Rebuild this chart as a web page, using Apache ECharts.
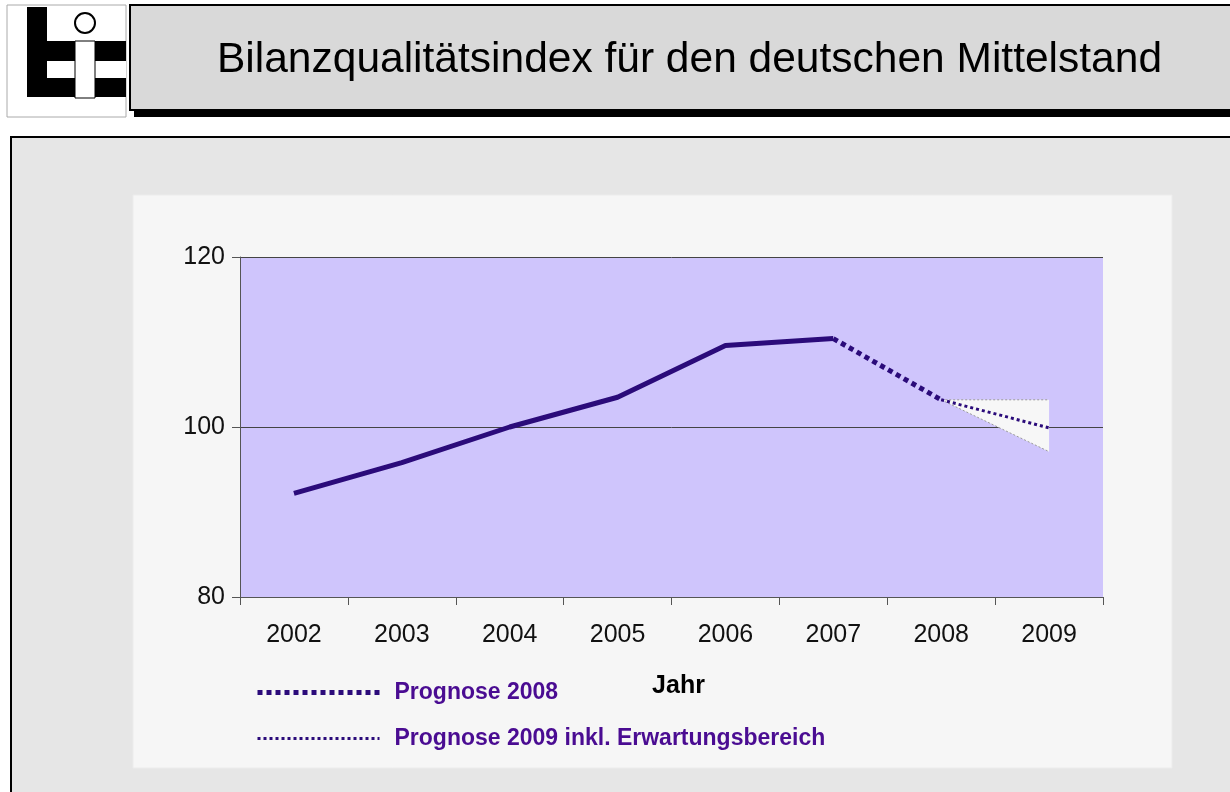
<!DOCTYPE html>
<html>
<head>
<meta charset="utf-8">
<script src="https://cdn.jsdelivr.net/npm/echarts@6/dist/echarts.min.js"></script>
<style>
  html, body { margin: 0; padding: 0; background: #fff; }
  #chart { width: 1230px; height: 792px; }
</style>
</head>
<body>
<div id="chart"></div>
<script>
// data
var years = ["2002", "2003", "2004", "2005", "2006", "2007", "2008", "2009"];
var indexValues = [92.2, 95.8, 100.0, 103.5, 109.6, 110.4, "-", "-"];
var forecast2008 = ["-", "-", "-", "-", "-", 110.4, 103.2, "-"];
var forecast2009 = ["-", "-", "-", "-", "-", "-", 103.2, 99.9];
var rangeLow = ["-", "-", "-", "-", "-", "-", 103.2, 97.1];
var rangeHigh = ["-", "-", "-", "-", "-", "-", 103.2, 103.2];

var lineColor = "#2b0b7a";
var legendColor = "#4a0c92";
var font = "Liberation Sans, Arial, sans-serif";

var myChart = echarts.init(document.getElementById("chart"));

// band = high - low, stacked on the low bound
var rangeBand = rangeHigh.map(function (v, i) {
  return v === "-" ? "-" : +(v - rangeLow[i]).toFixed(1);
});

var option = {
  backgroundColor: "#ffffff",
  animation: false,
  textStyle: { fontFamily: font },
  graphic: [
    // outer panel
    { type: "rect", z: -10, shape: { x: 11, y: 137, width: 1240, height: 700 },
      style: { fill: "#e6e6e6", stroke: "#000", lineWidth: 2 } },
    // inner chart area
    { type: "rect", z: -9, shape: { x: 133, y: 195, width: 1039, height: 573 },
      style: { fill: "#f6f6f6", stroke: "#ececec", lineWidth: 1 } },
    // title box shadow + box
    { type: "rect", z: -9, shape: { x: 134, y: 12, width: 1110, height: 105 },
      style: { fill: "#000" } },
    { type: "rect", z: -8, shape: { x: 130, y: 5, width: 1110, height: 105 },
      style: { fill: "#d9d9d9", stroke: "#000", lineWidth: 2 } },
    { type: "text", z: 5, x: 217, y: 60,
      style: { text: "Bilanzqualitätsindex für den deutschen Mittelstand",
        font: "42.5px " + font, fill: "#000", verticalAlign: "middle" } },
    // logo
    { type: "rect", z: -8, shape: { x: 7, y: 5, width: 119, height: 112 },
      style: { fill: "#fff", stroke: "#aaa", lineWidth: 1 } },
    { type: "rect", z: -7, shape: { x: 27, y: 7, width: 20, height: 90 }, style: { fill: "#000" } },
    { type: "rect", z: -7, shape: { x: 27, y: 41, width: 99, height: 56 }, style: { fill: "#000" } },
    { type: "rect", z: -6, shape: { x: 47, y: 61, width: 28, height: 17 }, style: { fill: "#fff" } },
    { type: "rect", z: -6, shape: { x: 95, y: 61, width: 31, height: 17 }, style: { fill: "#fff" } },
    { type: "rect", z: -6, shape: { x: 75, y: 41, width: 20, height: 57 },
      style: { fill: "#fff", stroke: "#000", lineWidth: 1 } },
    { type: "circle", z: -6, shape: { cx: 85, cy: 23, r: 10 },
      style: { fill: "#fff", stroke: "#000", lineWidth: 2 } }
  ],
  grid: {
    left: 240, right: 127, top: 257, bottom: 195,
    show: true, backgroundColor: "#cfc5fc", borderWidth: 0
  },
  legend: {
    data: ["Prognose 2008", "Prognose 2009 inkl. Erwartungsbereich"],
    orient: "vertical",
    left: 250, top: 676,
    itemWidth: 122, itemHeight: 14, itemGap: 23,
    itemStyle: { opacity: 0 },
    lineStyle: { width: "inherit" },
    textStyle: { color: legendColor, fontSize: 23, fontWeight: "bold",
      fontFamily: font, padding: [0, 0, 0, 10] },
    selectedMode: false
  },
  xAxis: {
    type: "category",
    data: years,
    boundaryGap: true,
    name: "Jahr",
    nameLocation: "middle",
    nameGap: 77,
    nameTextStyle: { color: "#000", fontSize: 25, fontWeight: "bold", padding: [0, 0, 0, 14] },
    axisLine: { lineStyle: { color: "#555", width: 1 } },
    axisTick: { show: true, length: 8, lineStyle: { color: "#555" } },
    axisLabel: { color: "#111", fontSize: 25, margin: 26 }
  },
  yAxis: {
    type: "value",
    min: 80, max: 120, interval: 20,
    axisLine: { show: true, lineStyle: { color: "#555", width: 1 } },
    axisTick: { show: true, length: 8, lineStyle: { color: "#555" } },
    axisLabel: { color: "#111", fontSize: 25, margin: 15 },
    splitLine: { show: true, lineStyle: { color: "#444", width: 1 } }
  },
  series: [
    {
      name: "Index",
      type: "line",
      data: indexValues,
      showSymbol: false,
      lineStyle: { color: lineColor, width: 5 },
      z: 4
    },
    {
      name: "rangeLow",
      type: "line",
      stack: "range",
      data: rangeLow,
      showSymbol: false,
      lineStyle: { color: "#9a9a9a", width: 1, type: [2, 2] },
      z: 2
    },
    {
      name: "rangeBand",
      type: "line",
      stack: "range",
      data: rangeBand,
      showSymbol: false,
      lineStyle: { color: "#9a9a9a", width: 1, type: [2, 2] },
      areaStyle: { color: "#f7f7f7", opacity: 1 },
      z: 2
    },
    {
      name: "Prognose 2008",
      type: "line",
      data: forecast2008,
      showSymbol: false,
      symbol: "none",
      itemStyle: { color: lineColor },
      lineStyle: { color: lineColor, width: 5, type: [5, 4] },
      z: 4
    },
    {
      name: "Prognose 2009 inkl. Erwartungsbereich",
      type: "line",
      data: forecast2009,
      showSymbol: false,
      symbol: "none",
      itemStyle: { color: lineColor },
      lineStyle: { color: lineColor, width: 3, type: [3, 3] },
      z: 4
    }
  ]
};

myChart.setOption(option);
</script>
</body>
</html>
